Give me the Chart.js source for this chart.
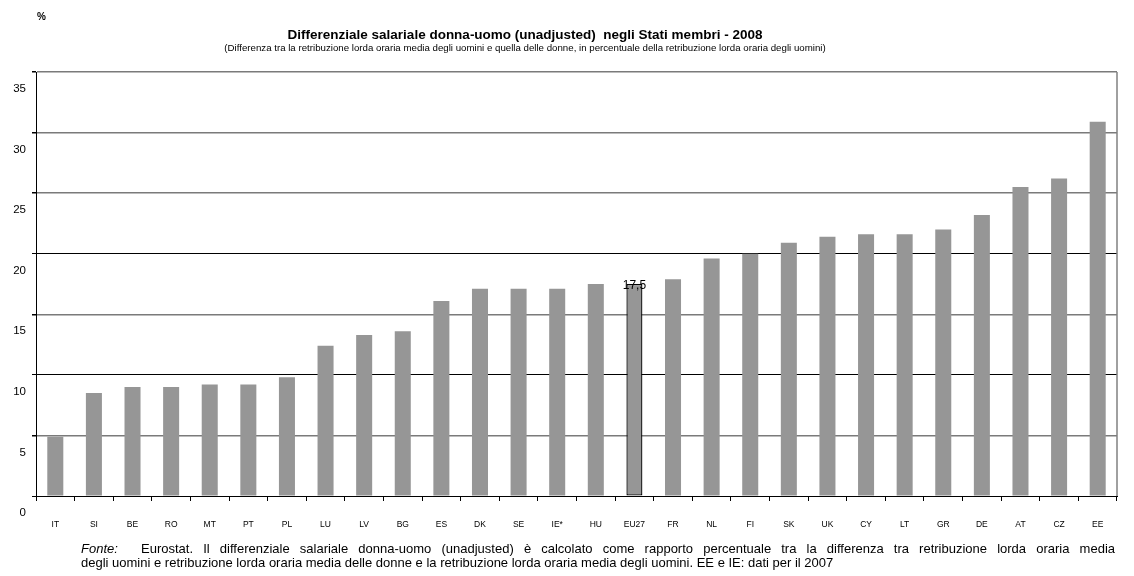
<!DOCTYPE html>
<html lang="it">
<head>
<meta charset="utf-8">
<title>Differenziale salariale donna-uomo 2008</title>
<script src="https://cdn.jsdelivr.net/npm/chart.js@4.4.1/dist/chart.umd.min.js"></script>
<style>
  html, body { margin: 0; padding: 0; background: #fff; }
  #wrap { position: relative; width: 1134px; height: 576px; overflow: hidden; font-family: "Liberation Sans", Arial, sans-serif; color: #000; }
  #chart { position: absolute; left: 0; top: 0; }
  .txt { position: absolute; white-space: nowrap; }
  #pct { left: 37px; top: 11px; font-size: 10px; font-weight: bold; }
  #title { left: 0; width: 1050px; text-align: center; top: 27px; font-size: 13.5px; line-height: 16px; font-weight: bold; }
  #subtitle { left: 0; width: 1050px; text-align: center; top: 42px; font-size: 9.7px; line-height: 11px; }
  #note1 { left: 81px; top: 542px; width: 1034px; font-size: 13px; line-height: 14px; text-align: justify; text-align-last: justify; white-space: normal; }
  #note2 { left: 81px; top: 556px; font-size: 13px; line-height: 14px; }
  #note1 i { display: inline-block; width: 60px; }
</style>
</head>
<body>
<div id="wrap">
  <canvas id="chart" width="1134" height="576"></canvas>
  <div class="txt" id="pct">%</div>
  <div class="txt" id="title">Differenziale salariale donna-uomo (unadjusted)&nbsp; negli Stati membri - 2008</div>
  <div class="txt" id="subtitle">(Differenza tra la retribuzione lorda oraria media degli uomini e quella delle donne, in percentuale della retribuzione lorda oraria degli uomini)</div>
  <div class="txt" id="note1"><i>Fonte:</i>Eurostat. Il differenziale salariale donna-uomo (unadjusted) è calcolato come rapporto percentuale tra la differenza tra retribuzione lorda oraria media</div>
  <div class="txt" id="note2">degli uomini e retribuzione lorda oraria media delle donne e la retribuzione lorda oraria media degli uomini. EE e IE: dati per il 2007</div>
</div>
<script>
// Paesi (ordinati per divario crescente) e divario retributivo in %
const countries = ['IT', 'SI', 'BE', 'RO', 'MT', 'PT', 'PL', 'LU', 'LV', 'BG', 'ES', 'DK', 'SE', 'IE*',
                   'HU', 'EU27', 'FR', 'NL', 'FI', 'SK', 'UK', 'CY', 'LT', 'GR', 'DE', 'AT', 'CZ', 'EE'];
const gapValues = [4.9, 8.5, 9.0, 9.0, 9.2, 9.2, 9.8, 12.4, 13.3, 13.6, 16.1, 17.1, 17.1, 17.1,
                   17.5, 17.5, 17.9, 19.6, 20.0, 20.9, 21.4, 21.6, 21.6, 22.0, 23.2, 25.5, 26.2, 30.9];
const yTicks = [0, 5, 10, 15, 20, 25, 30, 35];
const highlighted = 'EU27';

const BAR_GREY = '#969696';

// Etichetta col valore sopra la barra della media UE
const valueLabel = {
  id: 'valueLabel',
  afterDatasetsDraw(chart) {
    const ctx = chart.ctx;
    const meta = chart.getDatasetMeta(0);
    const i = countries.indexOf(highlighted);
    const bar = meta.data[i];
    ctx.save();
    ctx.font = '12px "Liberation Sans", Arial, sans-serif';
    ctx.fillStyle = '#000';
    ctx.textAlign = 'center';
    ctx.textBaseline = 'middle';
    ctx.fillText(gapValues[i].toFixed(1).replace('.', ','), bar.x, bar.y + 2);
    ctx.restore();
  }
};

// Bordo destro dell'area del grafico
const frame = {
  id: 'frame',
  beforeDatasetsDraw(chart) {
    const { ctx, chartArea: a } = chart;
    ctx.save();
    ctx.strokeStyle = '#808080';
    ctx.lineWidth = 1.5;
    ctx.beginPath();
    ctx.moveTo(a.right, a.top);
    ctx.lineTo(a.right, a.bottom);
    ctx.stroke();
    ctx.restore();
  }
};

const darkLine = v => v === 0 || v === 10 || v === 20;

new Chart(document.getElementById('chart'), {
  type: 'bar',
  data: {
    labels: countries,
    datasets: [{
      data: gapValues,
      backgroundColor: BAR_GREY,
      borderColor: countries.map(c => c === highlighted ? '#000' : BAR_GREY),
      borderWidth: countries.map(c => c === highlighted ? 1.3 : 0),
      borderSkipped: false,
      barPercentage: 0.415,
      categoryPercentage: 1.0
    }]
  },
  options: {
    responsive: false,
    animation: false,
    events: [],
    layout: { padding: { left: 0, top: 72, right: 17, bottom: 0 } },
    plugins: { legend: { display: false }, tooltip: { enabled: false }, title: { display: false } },
    scales: {
      x: {
        afterFit(s) { s.height = 80; },
        border: { display: true, color: '#000', width: 1 },
        grid: { display: true, offset: true, drawOnChartArea: false, drawTicks: true, tickLength: 5, tickColor: '#000' },
        ticks: { color: '#000', font: { family: '"Liberation Sans", Arial, sans-serif', size: 8.5 }, padding: 19, maxRotation: 0, autoSkip: false }
      },
      y: {
        min: 0,
        max: 35,
        afterFit(s) { s.width = 36; },
        afterBuildTicks(s) { s.ticks = yTicks.map(v => ({ value: v })); },
        border: { display: true, color: '#000', width: 1 },
        grid: {
          drawTicks: true,
          tickLength: 4,
          tickColor: '#000',
          color: ctx => (ctx.tick && darkLine(ctx.tick.value)) ? '#000' : '#7a7a7a',
          lineWidth: ctx => (ctx.tick && darkLine(ctx.tick.value)) ? 1 : 1.5
        },
        ticks: {
          color: '#000',
          font: { family: '"Liberation Sans", Arial, sans-serif', size: 11.5 },
          padding: 6,
          labelOffset: 17
        }
      }
    }
  },
  plugins: [frame, valueLabel]
});
</script>
</body>
</html>
